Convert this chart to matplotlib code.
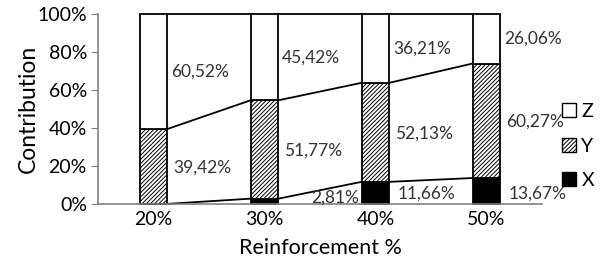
import numpy as np
import matplotlib
matplotlib.use("Agg")
import matplotlib.pyplot as plt
from matplotlib.patches import Patch

plt.rcParams['font.family'] = ['Lato', 'DejaVu Sans']
plt.rcParams['hatch.color'] = '#666666'
plt.rcParams['hatch.linewidth'] = 0.7

# data
categories = ['20%', '30%', '40%', '50%']
x_vals = [0.06, 2.81, 11.66, 13.67]
y_vals = [39.42, 51.77, 52.13, 60.27]
z_vals = [60.52, 45.42, 36.21, 26.06]
x_labels = ['', '2,81%', '11,66%', '13,67%']
y_labels = ['39,42%', '51,77%', '52,13%', '60,27%']
z_labels = ['60,52%', '45,42%', '36,21%', '26,06%']

fig = plt.figure(figsize=(6.08, 2.65), dpi=100)
ax = fig.add_axes([98/608, 1 - 204/265, 444/608, 190/265])

pos = np.arange(len(categories))
w = 0.25
xa = np.array(x_vals)
ya = np.array(y_vals)
za = np.array(z_vals)

ax.bar(pos, xa, w, color='black', edgecolor='black', linewidth=1.3, clip_on=False)
ax.bar(pos, ya, w, bottom=xa, color='white', edgecolor='black', hatch='////////',
       linewidth=1.3, clip_on=False)
ax.bar(pos, za, w, bottom=xa + ya, color='white', edgecolor='black', linewidth=1.3,
       clip_on=False)

# series lines between bars
for top in [xa, xa + ya, xa + ya + za]:
    for i in range(len(pos) - 1):
        ax.plot([pos[i] + w/2, pos[i+1] - w/2], [top[i], top[i+1]], color='black',
                lw=1.3, clip_on=False)

# data labels
fs = 12.5
for i in pos:
    ax.text(i + 0.42, xa[i] + ya[i] + za[i]/2, z_labels[i], ha='center', va='center',
            fontsize=fs, color='#333333')
    ax.text(i + 0.44, xa[i] + ya[i]/2 - 0.5, y_labels[i], ha='center', va='center',
            fontsize=fs, color='#333333')
    if x_labels[i]:
        lx = i + 0.64 if i == 1 else i + 0.46
        ly = 3.5 if i == 1 else 5.5
        ax.text(lx, ly, x_labels[i], ha='center', va='center', fontsize=fs, color='#333333')

ax.set_xlim(-0.5, 3.5)
ax.set_ylim(0, 100)
ax.set_xticks(pos)
ax.set_xticklabels(categories, fontsize=14)
ax.set_yticks(np.arange(0, 101, 20))
ax.set_yticklabels([f'{v}%' for v in range(0, 101, 20)], fontsize=14)
ax.tick_params(axis='x', length=0, pad=5)
ax.tick_params(axis='y', length=5, color='#808080', pad=3)
for s in ['top', 'right']:
    ax.spines[s].set_visible(False)
ax.spines['left'].set_color('#808080')
ax.spines['bottom'].set_color('#808080')
ax.spines['left'].set_linewidth(1.2)
ax.spines['bottom'].set_linewidth(1.2)

ax.set_xlabel('Reinforcement %', fontsize=15.5, labelpad=7)
ax.set_ylabel('Contribution', fontsize=16.5, labelpad=-1)

handles = [Patch(facecolor='white', edgecolor='black', label='Z'),
           Patch(facecolor='white', edgecolor='black', hatch='////////', label='Y'),
           Patch(facecolor='black', edgecolor='black', label='X')]
fig.legend(handles=handles, loc='center left', bbox_to_anchor=(562/608, 1 - 146/265),
           frameon=False, fontsize=14, handlelength=0.7, handleheight=0.7,
           handletextpad=0.3, labelspacing=0.9, borderpad=0, borderaxespad=0)

fig.savefig('out.png', dpi=100)
